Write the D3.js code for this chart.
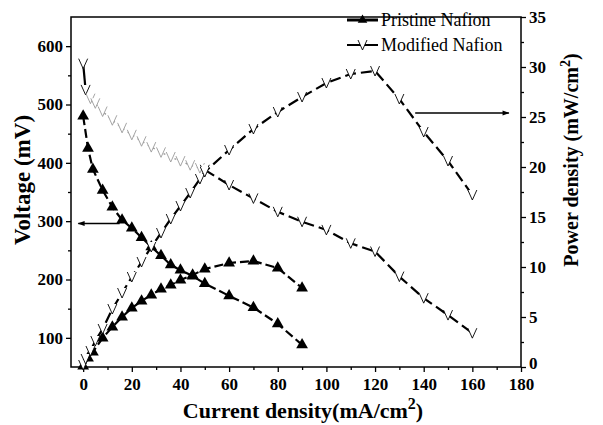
<!DOCTYPE html>
<html>
<head>
<meta charset="utf-8">
<script src="https://cdn.jsdelivr.net/npm/d3@7"></script>
<style>
  body { margin: 0; background: #fff; }
  svg text { font-family: "Liberation Serif", "Times New Roman", serif; }
</style>
</head>
<body>
<div id="chart"></div>
<script>
// current density (mA/cm2) and readings for each membrane
const pristineCurrent = [0, 2, 4, 8, 12, 16, 20, 24, 28, 32, 36, 40, 45, 50, 60, 70, 80, 90];
const pristineVoltage = [480, 425, 389, 353, 324, 302, 288, 272, 256, 241, 225, 216, 206, 193, 172, 152, 124, 88];
const pristinePower = [0.1, 0.9, 1.5, 2.9, 4.0, 5.0, 5.9, 6.6, 7.2, 7.8, 8.2, 8.7, 9.2, 9.8, 10.4, 10.6, 9.9, 7.9];

const modifiedCurrent = [0, 1, 3, 5, 8, 12, 16, 20, 24, 28, 32, 36, 40, 44, 48, 50, 60, 70, 80, 90, 100, 110, 120, 130, 140, 150, 160];
const modifiedVoltage = [570, 525, 510, 502, 488, 473, 460, 448, 437, 427, 418, 410, 403, 396, 391, 388, 362, 339, 316, 299, 285, 262, 248, 205, 168, 139, 108];
const modifiedPower = [0.2, 0.8, 1.6, 2.6, 3.8, 5.8, 7.4, 9.0, 10.5, 12.0, 13.4, 14.8, 16.1, 17.4, 18.8, 19.5, 21.7, 23.8, 25.5, 27.0, 28.4, 29.3, 29.6, 26.8, 23.5, 20.6, 17.2];

const xTicks = [0, 20, 40, 60, 80, 100, 120, 140, 160, 180];
const voltTicks = [100, 200, 300, 400, 500, 600];
const powerTicks = [0, 5, 10, 15, 20, 25, 30, 35];
const legendLabels = ["Pristine Nafion", "Modified Nafion"];

const width = 603, height = 425;
const margin = {top: 17, right: 82, bottom: 58, left: 71};

const svg = d3.select("#chart").append("svg")
  .attr("width", width)
  .attr("height", height);

const x = d3.scaleLinear().domain([-5, 180]).range([margin.left, width - margin.right]);
const yV = d3.scaleLinear().domain([50, 650]).range([height - margin.bottom, margin.top]);
const yP = d3.scaleLinear().domain([0, 35]).range([height - margin.bottom, margin.top]);

svg.append("defs").append("marker")
  .attr("id", "arrow")
  .attr("viewBox", "0 0 10 10")
  .attr("refX", 9).attr("refY", 5)
  .attr("markerWidth", 9).attr("markerHeight", 7)
  .attr("markerUnits", "userSpaceOnUse")
  .attr("orient", "auto")
  .append("path").attr("d", "M0,1.5 L10,5 L0,8.5 Z").attr("fill", "#000");

// frame
svg.append("rect")
  .attr("x", margin.left).attr("y", margin.top)
  .attr("width", width - margin.left - margin.right)
  .attr("height", height - margin.top - margin.bottom)
  .attr("fill", "none").attr("stroke", "#000").attr("stroke-width", 1.5);

// axes
const bottomAxis = d3.axisBottom(x).tickValues(xTicks).tickSize(5).tickPadding(6);
const leftAxis = d3.axisLeft(yV).tickValues(voltTicks).tickSize(5).tickPadding(3);
const rightAxis = d3.axisRight(yP).tickValues(powerTicks).tickSize(5).tickPadding(3);

const gx = svg.append("g").attr("transform", `translate(0,${height - margin.bottom})`);
gx.append("g").call(d3.axisBottom(x).tickValues(d3.range(10, 180, 20)).tickSize(3).tickFormat(""));
gx.append("g").call(bottomAxis);

const gl = svg.append("g").attr("transform", `translate(${margin.left},0)`);
gl.append("g").call(d3.axisLeft(yV).tickValues(d3.range(150, 650, 100)).tickSize(3).tickFormat(""));
gl.append("g").call(leftAxis);

const gr = svg.append("g").attr("transform", `translate(${width - margin.right},0)`);
gr.append("g").call(d3.axisRight(yP).tickValues(d3.range(2.5, 35, 5)).tickSize(3).tickFormat(""));
gr.append("g").call(rightAxis);

svg.selectAll(".domain").remove();
svg.selectAll(".tick line").attr("stroke", "#000").attr("stroke-width", 1.3);
svg.selectAll(".tick text")
  .attr("fill", "#000")
  .style("font-size", "17px")
  .style("font-weight", "bold");
// lift the right-hand "0" a little so it clears the "180" below it
gr.selectAll(".tick text").filter(d => d === 0).attr("dy", "0.1em");

// axis titles
svg.append("text")
  .attr("transform", "translate(30,180) rotate(-90)")
  .attr("text-anchor", "middle")
  .style("font-size", "23px").style("font-weight", "bold")
  .text("Voltage (mV)");

const xt = svg.append("text")
  .attr("x", 303)
  .attr("y", 418)
  .attr("text-anchor", "middle")
  .style("font-size", "22px").style("font-weight", "bold");
xt.append("tspan").text("Current density(mA/cm");
xt.append("tspan").attr("dy", -9).style("font-size", "16px").text("2");
xt.append("tspan").attr("dy", 9).text(")");

const yt = svg.append("text")
  .attr("transform", "translate(578,160) rotate(-90)")
  .attr("text-anchor", "middle")
  .style("font-size", "20px").style("font-weight", "bold");
yt.append("tspan").text("Power density (mW/cm");
yt.append("tspan").attr("dy", -8).style("font-size", "14px").text("2");
yt.append("tspan").attr("dy", 8).text(")");

// series
const triangle = d3.symbol().type(d3.symbolTriangle).size(60);
const vee = "M-4.5,-5 L0,5 L4.5,-5";

function drawSeries(xs, ys, scale, kind, faintUpTo) {
  const pts = xs.map((c, i) => [c, ys[i]]);
  const line = d3.line().x(d => x(d[0])).y(d => scale(d[1]));
  const solidPts = faintUpTo ? pts.filter(d => d[0] >= faintUpTo) : pts;

  if (faintUpTo) {
    // scanned original: the early part of this curve came out light and dotted
    const faint = pts.filter(d => d[0] >= 1 && d[0] <= faintUpTo);
    svg.append("path").datum(pts.filter(d => d[0] <= 1))
      .attr("d", line).attr("fill", "none")
      .attr("stroke", "#000").attr("stroke-width", 2.2);
    svg.append("path").datum(faint)
      .attr("d", line).attr("fill", "none")
      .attr("stroke", "#9a9a9a").attr("stroke-width", 1.4)
      .attr("stroke-dasharray", "2,4");
  }

  svg.append("path")
    .datum(solidPts)
    .attr("d", line)
    .attr("fill", "none")
    .attr("stroke", "#000")
    .attr("stroke-width", 2.2)
    .attr("stroke-dasharray", kind === "tri" ? "9,4" : "11,5");

  const marks = svg.append("g").selectAll("path.mk")
    .data(pts).enter().append("path")
    .attr("class", "mk")
    .attr("transform", d => `translate(${x(d[0])},${scale(d[1])})`);
  if (kind === "tri") {
    marks.attr("d", triangle()).attr("fill", "#000");
  } else {
    marks.attr("d", vee).attr("fill", "#fff")
      .attr("stroke", d => (faintUpTo && d[0] > 1 && d[0] < faintUpTo) ? "#9a9a9a" : "#000")
      .attr("stroke-width", 0.9);
  }
}

drawSeries(pristineCurrent, pristineVoltage, yV, "tri");
drawSeries(pristineCurrent, pristinePower, yP, "tri");
drawSeries(modifiedCurrent, modifiedVoltage, yV, "vee", 50);
drawSeries(modifiedCurrent, modifiedPower, yP, "vee");

// arrows pointing at the axis each curve belongs to
svg.append("line")
  .attr("x1", x(15)).attr("x2", x(-2))
  .attr("y1", yV(296)).attr("y2", yV(296))
  .attr("stroke", "#000").attr("stroke-width", 1.4)
  .attr("marker-end", "url(#arrow)");
svg.append("line")
  .attr("x1", x(136.5)).attr("x2", x(175))
  .attr("y1", yP(25.4)).attr("y2", yP(25.4))
  .attr("stroke", "#000").attr("stroke-width", 1.4)
  .attr("marker-end", "url(#arrow)");

// legend
const legend = svg.append("g").attr("transform", "translate(347,20)");
legendLabels.forEach((name, i) => {
  const row = legend.append("g").attr("transform", `translate(0,${i * 25})`);
  row.append("line").attr("x1", 0).attr("x2", 31).attr("y1", 0).attr("y2", 0)
    .attr("stroke", "#000").attr("stroke-width", i === 0 ? 3 : 2);
  if (i === 0) {
    row.append("path").attr("transform", "translate(15.5,0)")
      .attr("d", d3.symbol().type(d3.symbolTriangle).size(40)()).attr("fill", "#000");
  } else {
    row.append("path").attr("transform", "translate(15.5,0)")
      .attr("d", vee).attr("fill", "#fff").attr("stroke", "#000").attr("stroke-width", 0.9);
  }
  row.append("text").attr("x", 34).attr("y", 6)
    .style("font-size", "18px")
    .text(name);
});
</script>
</body>
</html>
